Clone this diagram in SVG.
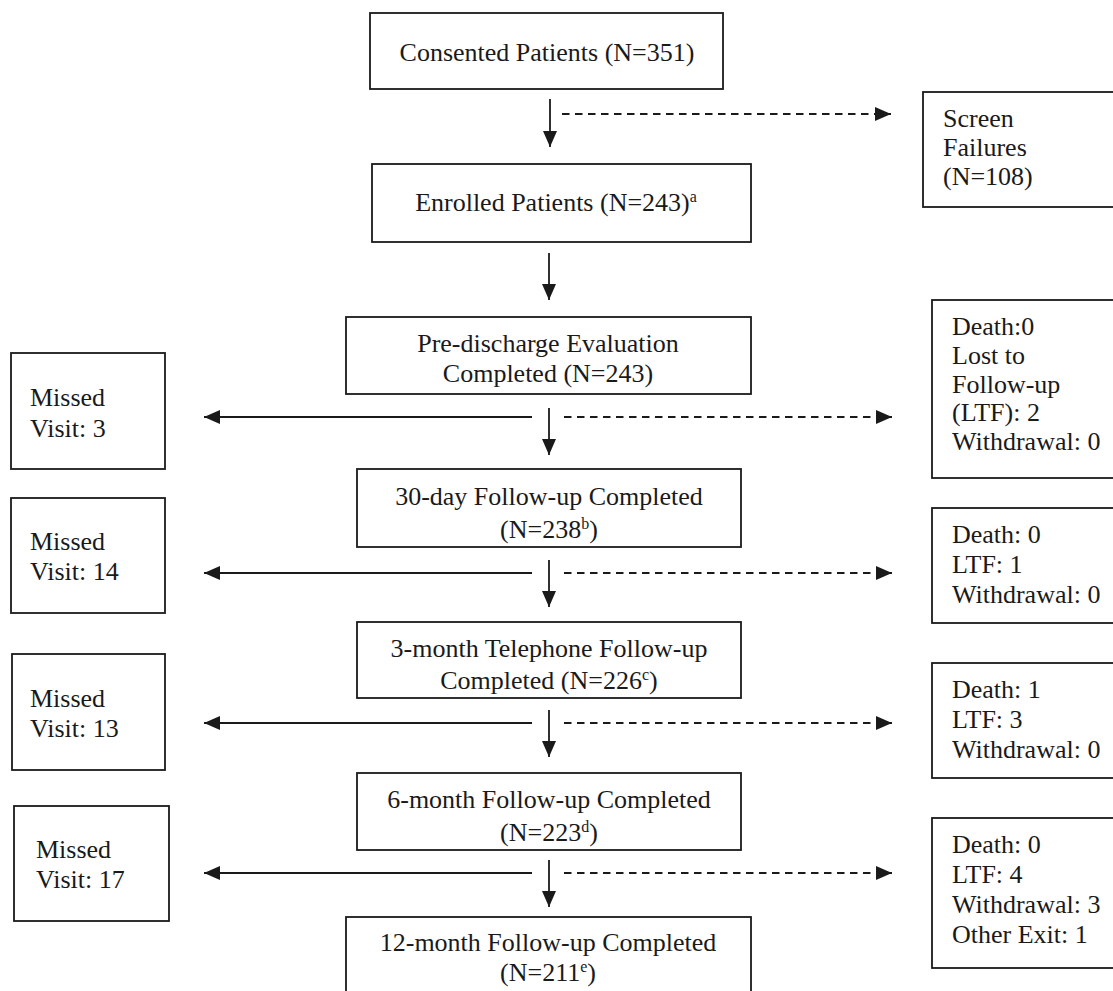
<svg xmlns="http://www.w3.org/2000/svg" width="1113" height="991" viewBox="0 0 1113 991">
<defs>
<style>
.box{fill:#fff;stroke:#1a1a1a;stroke-width:1.8}
.t{font-family:"Liberation Serif","Times New Roman",serif;font-size:26px;fill:#1a1a1a}
.c{text-anchor:middle}
.sup{font-size:16px}
.ln{stroke:#1a1a1a;stroke-width:1.8;fill:none}
.dash{stroke-dasharray:7.5 5.5}
</style>
<marker id="ah" viewBox="0 0 16 14" refX="16" refY="7" markerWidth="16" markerHeight="14" markerUnits="userSpaceOnUse" orient="auto">
<path d="M0,0 L16,7 L0,14 Z" fill="#1a1a1a"/>
</marker>
</defs>
<rect width="1113" height="991" fill="#fff"/>

<g id="consented">
<rect class="box" x="370" y="13" width="353" height="76"/>
<text class="t c" x="547" y="61">Consented Patients (N=351)</text>
</g>
<g id="screen-failures">
<rect class="box" x="923" y="92" width="210" height="115"/>
<text class="t" x="943" y="127">Screen</text>
<text class="t" x="943" y="156">Failures</text>
<text class="t" x="943" y="185">(N=108)</text>
</g>
<g id="enrolled">
<rect class="box" x="372" y="164" width="379" height="78"/>
<text class="t c" x="556" y="211">Enrolled Patients (N=243)<tspan class="sup" dy="-9">a</tspan></text>
</g>
<g id="predischarge">
<rect class="box" x="346" y="317" width="405" height="77"/>
<text class="t c" x="548" y="352">Pre-discharge Evaluation</text>
<text class="t c" x="548" y="382">Completed (N=243)</text>
</g>
<g id="missed1">
<rect class="box" x="11" y="353" width="154" height="116"/>
<text class="t" x="30" y="406">Missed</text>
<text class="t" x="30" y="437">Visit: 3</text>
</g>
<g id="exit1">
<rect class="box" x="932" y="300" width="200" height="178"/>
<text class="t" x="952" y="335">Death:0</text>
<text class="t" x="952" y="364">Lost to</text>
<text class="t" x="952" y="393">Follow-up</text>
<text class="t" x="952" y="421">(LTF): 2</text>
<text class="t" x="952" y="450">Withdrawal: 0</text>
</g>
<g id="day30">
<rect class="box" x="357" y="469" width="384" height="78"/>
<text class="t c" x="549" y="505">30-day Follow-up Completed</text>
<text class="t c" x="549" y="538">(N=238<tspan class="sup" dy="-9">b</tspan><tspan dy="9">)</tspan></text>
</g>
<g id="missed2">
<rect class="box" x="11" y="498" width="154" height="115"/>
<text class="t" x="30" y="550">Missed</text>
<text class="t" x="30" y="580">Visit: 14</text>
</g>
<g id="exit2">
<rect class="box" x="932" y="508" width="200" height="115"/>
<text class="t" x="952" y="543">Death: 0</text>
<text class="t" x="952" y="573">LTF: 1</text>
<text class="t" x="952" y="603">Withdrawal: 0</text>
</g>
<g id="month3">
<rect class="box" x="357" y="622" width="384" height="76"/>
<text class="t c" x="549" y="657">3-month Telephone Follow-up</text>
<text class="t c" x="549" y="689">Completed (N=226<tspan class="sup" dy="-9">c</tspan><tspan dy="9">)</tspan></text>
</g>
<g id="missed3">
<rect class="box" x="12" y="654" width="153" height="116"/>
<text class="t" x="30" y="707">Missed</text>
<text class="t" x="30" y="737">Visit: 13</text>
</g>
<g id="exit3">
<rect class="box" x="932" y="663" width="200" height="115"/>
<text class="t" x="952" y="698">Death: 1</text>
<text class="t" x="952" y="728">LTF: 3</text>
<text class="t" x="952" y="758">Withdrawal: 0</text>
</g>
<g id="month6">
<rect class="box" x="357" y="773" width="384" height="77"/>
<text class="t c" x="549" y="808">6-month Follow-up Completed</text>
<text class="t c" x="549" y="841">(N=223<tspan class="sup" dy="-9">d</tspan><tspan dy="9">)</tspan></text>
</g>
<g id="missed4">
<rect class="box" x="14" y="806" width="155" height="115"/>
<text class="t" x="36" y="858">Missed</text>
<text class="t" x="36" y="888">Visit: 17</text>
</g>
<g id="exit4">
<rect class="box" x="932" y="818" width="200" height="150"/>
<text class="t" x="952" y="853">Death: 0</text>
<text class="t" x="952" y="883">LTF: 4</text>
<text class="t" x="952" y="913">Withdrawal: 3</text>
<text class="t" x="952" y="943">Other Exit: 1</text>
</g>
<g id="month12">
<rect class="box" x="346" y="917" width="405" height="90"/>
<text class="t c" x="548" y="951">12-month Follow-up Completed</text>
<text class="t c" x="548" y="981">(N=211<tspan class="sup" dy="-9">e</tspan><tspan dy="9">)</tspan></text>
</g>

<g id="connectors">
<line class="ln" x1="550" y1="99" x2="550" y2="147" marker-end="url(#ah)"/>
<line class="ln dash" x1="562" y1="114" x2="891" y2="114" marker-end="url(#ah)"/>
<line class="ln" x1="549" y1="253" x2="549" y2="300" marker-end="url(#ah)"/>

<line class="ln" x1="549" y1="408" x2="549" y2="455" marker-end="url(#ah)"/>
<line class="ln" x1="532" y1="417" x2="204" y2="417" marker-end="url(#ah)"/>
<line class="ln dash" x1="564" y1="417" x2="892" y2="417" marker-end="url(#ah)"/>

<line class="ln" x1="549" y1="560" x2="549" y2="607" marker-end="url(#ah)"/>
<line class="ln" x1="532" y1="573" x2="204" y2="573" marker-end="url(#ah)"/>
<line class="ln dash" x1="564" y1="573" x2="892" y2="573" marker-end="url(#ah)"/>

<line class="ln" x1="549" y1="710" x2="549" y2="757" marker-end="url(#ah)"/>
<line class="ln" x1="532" y1="723" x2="204" y2="723" marker-end="url(#ah)"/>
<line class="ln dash" x1="564" y1="723" x2="892" y2="723" marker-end="url(#ah)"/>

<line class="ln" x1="549" y1="860" x2="549" y2="907" marker-end="url(#ah)"/>
<line class="ln" x1="532" y1="873" x2="204" y2="873" marker-end="url(#ah)"/>
<line class="ln dash" x1="564" y1="873" x2="892" y2="873" marker-end="url(#ah)"/>
</g>
</svg>
